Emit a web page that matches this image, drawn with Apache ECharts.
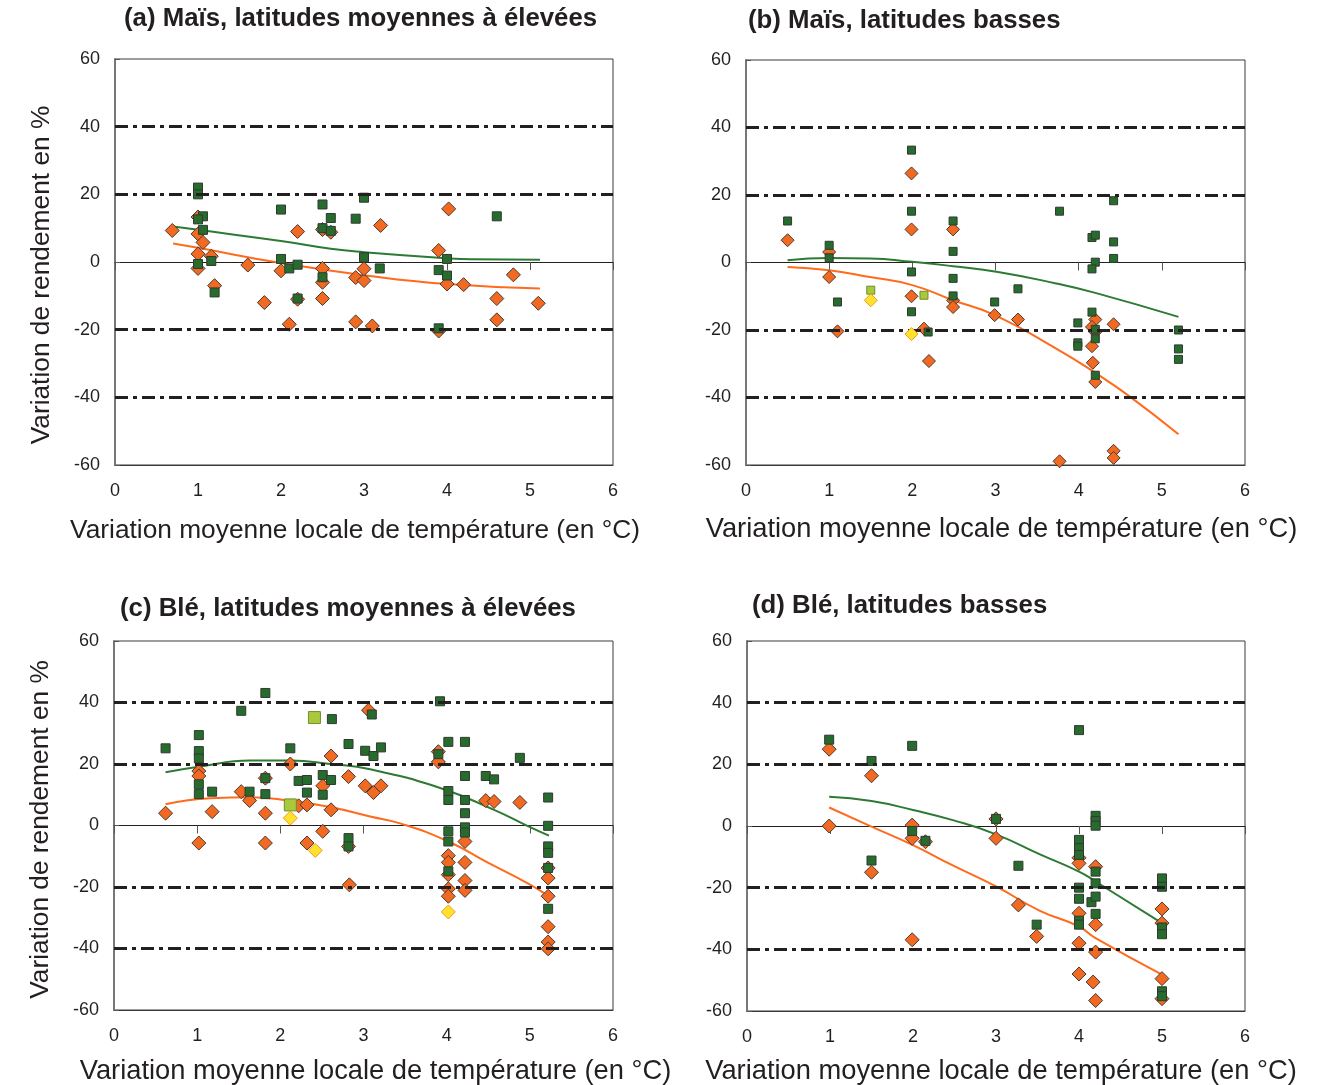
<!DOCTYPE html>
<html><head><meta charset="utf-8">
<script src="https://cdn.jsdelivr.net/npm/echarts@6/dist/echarts.min.js"></script>
<style>html,body{margin:0;padding:0;background:#fff}#c{width:1336px;height:1085px}</style>
</head><body><div id="c"></div>
<script>
// ---- tick labels ----
const xTickLabels = [0, 1, 2, 3, 4, 5, 6];
const yTickLabels = [-60, -40, -20, 0, 20, 40, 60];
const dashLevels = [-40, -20, 20, 40];

// ---- texts ----
const panelTitles = [
  '(a) Maïs, latitudes moyennes à élevées',
  '(b) Maïs, latitudes basses',
  '(c) Blé, latitudes moyennes à élevées',
  '(d) Blé, latitudes basses'
];
const xAxisTitle = 'Variation moyenne locale de température (en °C)';
const yAxisTitle = 'Variation de rendement en %';

// ---- (a) Maïs, latitudes moyennes à élevées ----
const aGreen = [[1.0,22],[1.0,20],[1.06,13.5],[1.0,12.6],[1.06,9.5],[1.0,-0.6],[1.16,0.3],[1.2,-9],[2.0,15.5],[2.0,0.9],[2.1,-1.9],[2.2,-0.8],[2.2,-10.8],[2.5,17],[2.5,10],[2.6,13],[2.6,9.2],[2.5,-4.5],[2.9,12.8],[3.0,19],[3.0,1.4],[3.19,-1.9],[4.6,13.5],[4.0,0.9],[3.9,-2.4],[4.0,-4],[3.9,-19.6]];
const aOrange = [[0.69,9.3],[1.0,13.3],[1.0,8.3],[1.06,5.8],[1.0,2.4],[1.0,-1.9],[1.16,1.7],[1.2,-7],[1.6,-0.9],[1.8,-12],[2.0,-2.6],[2.1,-18.4],[2.2,-11],[2.2,9],[2.5,9.6],[2.6,8.8],[2.5,-1.9],[2.5,-6],[2.5,-10.8],[2.9,-4.6],[3.0,-5.5],[3.0,-2],[2.9,-17.7],[3.1,-18.9],[3.2,10.8],[4.02,15.7],[3.9,3.4],[4.0,-6.5],[4.2,-6.7],[4.8,-3.8],[4.6,-10.8],[5.1,-12.2],[4.6,-17.1],[3.9,-20.4]];
const aLightGreen = [];
const aYellow = [];
const aTrendGreen = [[0.7,10.5],[1.0,9.5],[2.0,6.2],[2.6,3.9],[3.0,2.9],[4.0,1.1],[4.3,0.8],[5.12,0.7]];
const aTrendOrange = [[0.7,5.5],[1.0,4.2],[2.0,-0.3],[3.0,-3.9],[4.0,-6.5],[5.12,-7.8]];

// ---- (b) Maïs, latitudes basses ----
const bGreen = [[0.5,12.3],[1.0,5.1],[1.0,1.4],[1.1,-11.7],[1.99,33.3],[1.99,15.2],[1.99,-2.8],[1.99,-14.6],[2.49,12.3],[2.49,3.3],[2.49,-4.7],[2.49,-9.9],[2.19,-20.6],[2.99,-11.7],[3.77,15.2],[4.42,18.3],[4.16,7.4],[4.2,8.1],[4.42,6.1],[4.42,1.2],[4.2,0.1],[4.16,-1.9],[3.27,-7.8],[4.16,-14.7],[3.99,-17.9],[4.2,-19.8],[4.2,-22.6],[3.99,-23.8],[3.99,-24.8],[4.2,-33.4],[5.2,-20],[5.2,-25.6],[5.2,-28.7]];
const bOrange = [[0.5,6.6],[1.0,3.1],[1.0,-4.3],[1.1,-20.4],[1.99,26.4],[1.99,9.8],[1.99,-10],[2.14,-19.6],[2.2,-29.2],[2.49,9.8],[2.49,-11.2],[2.49,-13.2],[2.99,-15.6],[3.27,-16.9],[4.2,-16.9],[4.16,-19.1],[4.2,-20.6],[4.42,-18.3],[4.16,-24.8],[4.17,-29.7],[4.2,-35.4],[3.77,-58.9],[4.42,-55.8],[4.42,-57.9]];
const bLightGreen = [[1.5,-8.2],[2.14,-9.7]];
const bYellow = [[1.5,-11.2],[1.99,-21.2]];
const bTrendGreen = [[0.5,0.7],[1.0,1.3],[1.49,1.2],[2.0,0.2],[2.49,-1.1],[3.03,-2.8],[3.73,-6.2],[4.2,-9],[5.2,-16.1]];
const bTrendOrange = [[0.5,-1.3],[1.0,-2.3],[1.49,-4.3],[2.0,-6.7],[2.49,-11.2],[2.99,-15.6],[3.73,-25.5],[4.2,-32.7],[4.62,-39.8],[5.2,-50.9]];

// ---- (c) Blé, latitudes moyennes à élevées ----
const cGreen = [[0.62,25.1],[1.02,29.4],[1.02,24.2],[1.02,21.8],[1.02,13.4],[1.02,10.2],[1.18,11],[1.53,37.3],[1.82,43.1],[1.82,15.4],[1.82,10.2],[1.63,11],[2.12,25.1],[2.62,34.6],[2.22,14.5],[2.32,14.8],[2.32,10.7],[2.51,16.4],[2.61,14.8],[2.51,10],[2.82,26.5],[3.02,24.3],[3.1,36.1],[2.82,-4.1],[2.82,-6.8],[3.12,22.6],[3.21,25.4],[3.92,40.4],[4.02,27.2],[4.22,27.2],[3.9,23.2],[4.88,22],[4.22,16.1],[4.47,16.1],[4.57,15],[4.02,11.2],[4.02,8.3],[4.22,8.3],[4.22,4.0],[4.22,-0.6],[4.22,-2.3],[4.02,-1.9],[4.02,-5.2],[4.02,-14.9],[5.22,9.1],[5.22,-0.1],[5.22,-6.8],[5.22,-8.9],[5.22,-13.8],[5.22,-27.1]];
const cOrange = [[0.62,4.0],[1.02,17.7],[1.02,16.1],[1.02,-5.7],[1.18,4.5],[1.53,11],[1.63,8.1],[1.82,15.4],[1.82,4.0],[1.82,-5.7],[2.12,20],[2.22,6.4],[2.32,6.7],[2.32,-5.7],[2.51,12.9],[2.51,-1.9],[2.61,5.1],[2.61,22.6],[2.82,15.9],[3.02,12.9],[2.82,-6.8],[2.83,-19.3],[3.06,37.5],[3.12,10.7],[3.21,12.9],[3.9,24],[3.9,20.7],[4.47,8.1],[4.57,7.8],[4.88,7.5],[4.22,-5.2],[4.22,-12],[4.22,-17.9],[4.22,-21.1],[4.02,-9.8],[4.02,-12],[4.02,-16],[4.02,-20.6],[4.02,-23],[5.22,-13.8],[5.22,-17.1],[5.22,-23],[5.22,-32.9],[5.22,-37.9],[5.22,-40.1]];
const cLightGreen = [[2.41,35.1],[2.12,6.7]];
const cYellow = [[2.12,2.4],[2.42,-8.1],[4.02,-28.1]];
const cTrendGreen = [[0.62,17.3],[1.02,19.1],[1.64,21.1],[2.12,21.1],[2.6,20],[3.08,18.3],[3.93,12.1],[4.57,5.1],[4.97,-0.1],[5.23,-3.3]];
const cTrendOrange = [[0.62,6.9],[1.16,8.9],[1.64,9.2],[2.12,8.0],[2.6,6.0],[3.08,2.9],[3.45,0.6],[4.02,-5.2],[4.49,-12],[4.97,-18.7],[5.22,-22.8]];

// ---- (d) Blé, latitudes basses ----
const dGreen = [[0.99,28],[1.5,21.1],[1.99,26],[1.5,-11.2],[1.99,-1.6],[2.15,-4.8],[3.0,2.3],[3.27,-12.9],[3.49,-32],[4.0,31.1],[4.2,3.3],[4.2,1.6],[4.2,0.1],[4.0,-4.5],[4.0,-7.2],[4.0,-9.4],[4.2,-14.8],[4.2,-18.6],[4.0,-20],[4.0,-23.6],[4.15,-24.7],[4.2,-22.9],[4.2,-28.5],[4.0,-30.7],[4.0,-32],[5.0,-17],[5.0,-19.7],[5.0,-32.9],[5.0,-35.1],[5.0,-53.6],[5.0,-55.2]];
const dOrange = [[0.99,24.9],[0.99,0],[1.5,16.3],[1.5,-15],[1.99,0.3],[1.99,-4],[2.15,-5.1],[1.99,-36.9],[3.0,2.3],[3.0,-4],[3.27,-25.6],[3.49,-35.8],[4.0,-10.3],[4.0,-12.1],[4.2,-13.2],[4.0,-28.3],[4.2,-32],[4.0,-38],[4.2,-40.9],[4.0,-48],[4.17,-50.6],[4.2,-56.6],[5.0,-26.9],[5.0,-31.5],[5.0,-49.5],[5.0,-56]];
const dLightGreen = [];
const dYellow = [];
const dTrendGreen = [[0.99,9.5],[1.5,8.1],[2.0,5.2],[2.48,1.9],[3.0,-2.7],[3.53,-9.2],[4.0,-14.8],[4.2,-18],[5.0,-31.5]];
const dTrendOrange = [[0.99,6.0],[1.5,-0.2],[2.0,-6.2],[2.48,-12.8],[3.0,-19.6],[3.53,-27.5],[4.0,-32.6],[4.2,-36.4],[5.0,-48.2]];

// ---- layout / style ----
const FONT = "'Liberation Sans', Arial, Helvetica, sans-serif";
const panels = [
  {grid:{left:115, top:59, width:498, height:406}, title:{left:124, top:6},  yName:true,  nameGap:53, nameSize:26.3, xShift:-9, yShift:13, sq:9, dm:14, lg:9,  green:aGreen, orange:aOrange, lightGreen:aLightGreen, yellow:aYellow, tg:aTrendGreen, to:aTrendOrange},
  {grid:{left:746, top:60, width:499, height:405}, title:{left:748, top:8}, yName:false, nameGap:51, nameSize:27.3, xShift:6, yShift:0, sq:8, dm:13, lg:8,  green:bGreen, orange:bOrange, lightGreen:bLightGreen, yellow:bYellow, tg:bTrendGreen, to:bTrendOrange},
  {grid:{left:114, top:641, width:499, height:369}, title:{left:120, top:596}, yName:true, nameGap:48, nameSize:27.3, xShift:12, yShift:4, sq:9, dm:14, lg:12, green:cGreen, orange:cOrange, lightGreen:cLightGreen, yellow:cYellow, tg:cTrendGreen, to:cTrendOrange},
  {grid:{left:747, top:641, width:498, height:370}, title:{left:752, top:593}, yName:false, nameGap:47, nameSize:27.3, xShift:5, yShift:0, sq:9, dm:14, lg:9, green:dGreen, orange:dOrange, lightGreen:dLightGreen, yellow:dYellow, tg:dTrendGreen, to:dTrendOrange}
];

const xMin = xTickLabels[0], xMax = xTickLabels[xTickLabels.length-1], xInt = xTickLabels[1]-xTickLabels[0];
const yMin = yTickLabels[0], yMax = yTickLabels[yTickLabels.length-1], yInt = yTickLabels[1]-yTickLabels[0];

const option = {
  animation: false,
  backgroundColor: '#ffffff',
  title: [], grid: [], xAxis: [], yAxis: [], series: []
};

panels.forEach((p, i) => {
  option.title.push({
    text: panelTitles[i], left: p.title.left, top: p.title.top, padding: 0,
    textStyle: {fontFamily: FONT, fontSize: 25.8, fontWeight: 'bold', color: '#231f20'}
  });
  option.grid.push(Object.assign({show: true, borderColor: '#3a3a3a', borderWidth: 1, backgroundColor: 'transparent', outerBoundsMode: 'none', containLabel: false}, p.grid));
  const xs = p.xShift * 2;
  option.xAxis.push({
    type: 'value', gridIndex: i, min: xMin, max: xMax, interval: xInt, position: 'bottom',
    name: xAxisTitle, nameLocation: 'middle', nameGap: p.nameGap,
    nameTextStyle: {fontFamily: FONT, fontSize: p.nameSize, color: '#231f20',
      padding: xs >= 0 ? [0, 0, 0, xs] : [0, -xs, 0, 0]},
    axisLine: {show: true, onZero: false, lineStyle: {color: '#3a3a3a', width: 1}},
    axisTick: {show: false},
    axisLabel: {fontFamily: FONT, fontSize: 18, color: '#231f20', margin: 17},
    splitLine: {show: false}
  });
  option.xAxis.push({
    type: 'value', gridIndex: i, min: xMin, max: xMax, interval: xInt, position: 'top',
    axisLine: {show: true, onZero: true, lineStyle: {color: '#231f20', width: 1}},
    axisTick: {show: true, inside: true, length: 8, lineStyle: {color: '#555', width: 1}},
    axisLabel: {show: false},
    splitLine: {show: false}
  });
  const ys = p.yShift * 2;
  option.yAxis.push({
    type: 'value', gridIndex: i, min: yMin, max: yMax, interval: yInt,
    name: p.yName ? yAxisTitle : '', nameLocation: 'middle', nameGap: 60,
    nameTextStyle: {fontFamily: FONT, fontSize: 26.3, color: '#231f20', padding: [0, ys, 0, 0]},
    axisLine: {show: true, onZero: false, lineStyle: {color: '#777', width: 2}},
    axisTick: {show: true, inside: true, length: 5, lineStyle: {color: '#555'}},
    axisLabel: {fontFamily: FONT, fontSize: 18, color: '#231f20', margin: 15},
    splitLine: {show: false}
  });
  const xi = i * 2, yi = i;
  option.series.push({
    type: 'line', xAxisIndex: xi, yAxisIndex: yi, data: [], silent: true, z: 1,
    markLine: {
      silent: true, symbol: 'none', label: {show: false}, animation: false,
      lineStyle: {color: '#231f20', width: 3, type: [13, 5, 4, 5]},
      data: dashLevels.map(v => ({yAxis: v}))
    }
  });
  option.series.push({type: 'line', xAxisIndex: xi, yAxisIndex: yi, data: p.tg, smooth: true, showSymbol: false, symbol: 'none', silent: true, z: 2,
    lineStyle: {color: '#2d7a33', width: 2}});
  option.series.push({type: 'line', xAxisIndex: xi, yAxisIndex: yi, data: p.to, smooth: true, showSymbol: false, symbol: 'none', silent: true, z: 2,
    lineStyle: {color: '#ff6a1c', width: 2}});
  option.series.push({type: 'scatter', xAxisIndex: xi, yAxisIndex: yi, data: p.orange, symbol: 'diamond', symbolSize: p.dm, silent: true, z: 3,
    itemStyle: {color: '#f26a22', borderColor: '#4a3a30', borderWidth: 1, opacity: 1}});
  option.series.push({type: 'scatter', xAxisIndex: xi, yAxisIndex: yi, data: p.green, symbol: 'rect', symbolSize: p.sq, silent: true, z: 4,
    itemStyle: {color: '#276b2f', borderColor: '#2f3a2f', borderWidth: 1, opacity: 1}});
  option.series.push({type: 'scatter', xAxisIndex: xi, yAxisIndex: yi, data: p.lightGreen, symbol: 'rect', symbolSize: p.lg, silent: true, z: 5,
    itemStyle: {color: '#a9c83b', borderColor: '#6e8f2a', borderWidth: 1, opacity: 1}});
  option.series.push({type: 'scatter', xAxisIndex: xi, yAxisIndex: yi, data: p.yellow, symbol: 'diamond', symbolSize: p.dm, silent: true, z: 5,
    itemStyle: {color: '#ffe12e', borderColor: '#f29a1e', borderWidth: 1, opacity: 1}});
});

const chart = echarts.init(document.getElementById('c'), null, {renderer: 'canvas'});
chart.setOption(option);
</script>
</body></html>
